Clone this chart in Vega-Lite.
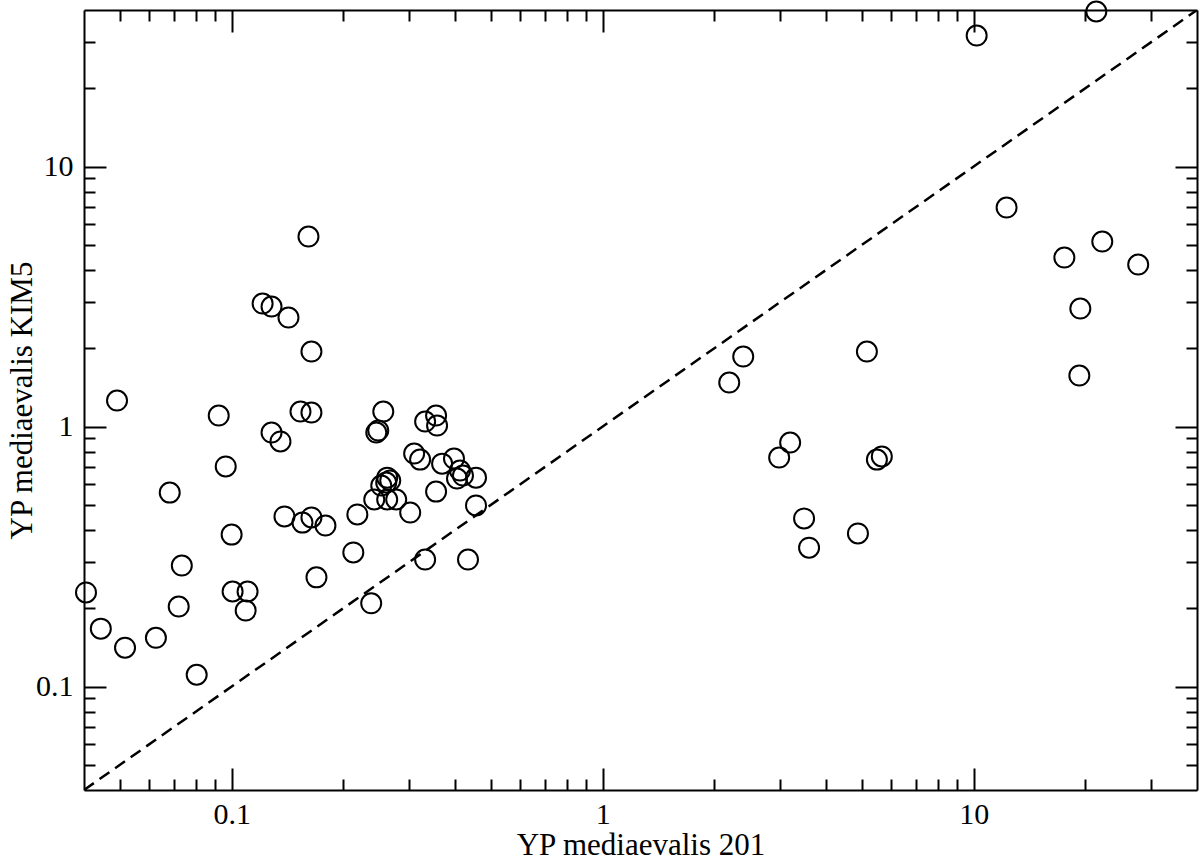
{
  "$schema": "https://vega.github.io/schema/vega-lite/v6.json",
  "width": 1113,
  "height": 780,
  "autosize": {"type": "none"},
  "padding": {"left": 84, "top": 10, "right": 3, "bottom": 72},
  "background": "white",
  "config": {
    "view": {"stroke": null},
    "axis": {
      "labelFont": "Liberation Serif",
      "titleFont": "Liberation Serif",
      "labelColor": "black",
      "titleColor": "black",
      "domainColor": "black",
      "tickColor": "black",
      "domainWidth": 2,
      "tickWidth": 2,
      "grid": false,
      "titleFontWeight": "normal",
      "labelFontSize": 30,
      "titleFontSize": 31
    }
  },
  "datasets": {
    "diag": [{"a": 0.04, "b": 0.04}, {"a": 40, "b": 40}],
    "points": [
      {"x": 0.0405, "y": 0.230}, {"x": 0.0444, "y": 0.167}, {"x": 0.0491, "y": 1.259},
      {"x": 0.0516, "y": 0.141}, {"x": 0.0625, "y": 0.154}, {"x": 0.0681, "y": 0.557},
      {"x": 0.0720, "y": 0.203}, {"x": 0.0734, "y": 0.292}, {"x": 0.0805, "y": 0.111},
      {"x": 0.0923, "y": 1.102}, {"x": 0.0964, "y": 0.702}, {"x": 0.100, "y": 0.384},
      {"x": 0.1006, "y": 0.232}, {"x": 0.1091, "y": 0.196}, {"x": 0.1104, "y": 0.232},
      {"x": 0.1212, "y": 2.972}, {"x": 0.1281, "y": 2.894}, {"x": 0.1281, "y": 0.948},
      {"x": 0.1354, "y": 0.876}, {"x": 0.1388, "y": 0.451}, {"x": 0.1423, "y": 2.626},
      {"x": 0.1533, "y": 1.142}, {"x": 0.1552, "y": 0.427}, {"x": 0.1611, "y": 5.38},
      {"x": 0.1641, "y": 1.943}, {"x": 0.1641, "y": 1.132}, {"x": 0.1641, "y": 0.447},
      {"x": 0.1693, "y": 0.263}, {"x": 0.1790, "y": 0.416}, {"x": 0.2128, "y": 0.328},
      {"x": 0.2182, "y": 0.459}, {"x": 0.2378, "y": 0.209}, {"x": 0.2423, "y": 0.524},
      {"x": 0.2454, "y": 0.948}, {"x": 0.2484, "y": 0.965}, {"x": 0.2563, "y": 1.142},
      {"x": 0.2531, "y": 0.593}, {"x": 0.2626, "y": 0.636}, {"x": 0.2676, "y": 0.620},
      {"x": 0.2610, "y": 0.609}, {"x": 0.2626, "y": 0.524}, {"x": 0.2777, "y": 0.524},
      {"x": 0.3029, "y": 0.467}, {"x": 0.3104, "y": 0.787}, {"x": 0.3221, "y": 0.746},
      {"x": 0.3323, "y": 1.045}, {"x": 0.3323, "y": 0.308}, {"x": 0.3557, "y": 1.102},
      {"x": 0.3579, "y": 1.009}, {"x": 0.3557, "y": 0.562}, {"x": 0.3692, "y": 0.720},
      {"x": 0.3975, "y": 0.753}, {"x": 0.4126, "y": 0.677}, {"x": 0.4203, "y": 0.648},
      {"x": 0.4050, "y": 0.631}, {"x": 0.4336, "y": 0.308}, {"x": 0.4557, "y": 0.636},
      {"x": 0.4557, "y": 0.497},
      {"x": 2.194, "y": 1.476}, {"x": 2.393, "y": 1.858}, {"x": 2.991, "y": 0.760},
      {"x": 3.202, "y": 0.868}, {"x": 3.491, "y": 0.443}, {"x": 3.601, "y": 0.342},
      {"x": 4.877, "y": 0.388}, {"x": 5.156, "y": 1.943}, {"x": 5.486, "y": 0.746},
      {"x": 5.656, "y": 0.767}, {"x": 10.19, "y": 31.9}, {"x": 12.27, "y": 6.956},
      {"x": 17.56, "y": 4.467}, {"x": 19.27, "y": 1.571}, {"x": 19.39, "y": 2.844},
      {"x": 21.41, "y": 39.47}, {"x": 22.22, "y": 5.146}, {"x": 27.77, "y": 4.199}
    ]
  },
  "layer": [
    {
      "data": {"name": "diag"},
      "mark": {"type": "line", "strokeDash": [12, 7], "strokeWidth": 2.5, "color": "black", "clip": true},
      "encoding": {
        "x": {
          "field": "a", "type": "quantitative",
          "scale": {"type": "log", "domain": [0.04, 40], "nice": false},
          "axis": {
            "orient": "bottom",
            "title": "YP mediaevalis 201",
            "values": [0.05,0.06,0.07,0.08,0.09,0.1,0.2,0.3,0.4,0.5,0.6,0.7,0.8,0.9,1,2,3,4,5,6,7,8,9,10,20,30],
            "tickSize": {"condition": {"test": "indexof([0.1,1,10], datum.value) >= 0", "value": -22}, "value": -11},
            "labelExpr": "datum.value === 0.1 ? '0.1' : datum.value === 1 ? '1' : datum.value === 10 ? '10' : ''",
            "labelPadding": 31,
            "titlePadding": 1
          }
        },
        "y": {
          "field": "b", "type": "quantitative",
          "scale": {"type": "log", "domain": [0.04, 40], "nice": false},
          "axis": {
            "orient": "left",
            "title": "YP mediaevalis KIM5",
            "values": [0.05,0.06,0.07,0.08,0.09,0.1,0.2,0.3,0.4,0.5,0.6,0.7,0.8,0.9,1,2,3,4,5,6,7,8,9,10,20,30],
            "tickSize": {"condition": {"test": "indexof([0.1,1,10], datum.value) >= 0", "value": -22}, "value": -11},
            "labelExpr": "datum.value === 0.1 ? '0.1' : datum.value === 1 ? '1' : datum.value === 10 ? '10' : ''",
            "labelPadding": 33,
            "titlePadding": -3
          }
        }
      }
    },
    {
      "data": {"name": "points"},
      "mark": {"type": "point", "shape": "circle", "filled": false, "size": 400, "stroke": "black", "strokeWidth": 2, "opacity": 1, "clip": false},
      "encoding": {
        "x": {
          "field": "x", "type": "quantitative",
          "axis": {
            "orient": "top",
            "title": null,
            "values": [0.05,0.06,0.07,0.08,0.09,0.1,0.2,0.3,0.4,0.5,0.6,0.7,0.8,0.9,1,2,3,4,5,6,7,8,9,10,20,30],
            "tickSize": {"condition": {"test": "indexof([0.1,1,10], datum.value) >= 0", "value": -22}, "value": -11},
            "labels": false
          }
        },
        "y": {
          "field": "y", "type": "quantitative",
          "axis": {
            "orient": "right",
            "title": null,
            "values": [0.05,0.06,0.07,0.08,0.09,0.1,0.2,0.3,0.4,0.5,0.6,0.7,0.8,0.9,1,2,3,4,5,6,7,8,9,10,20,30],
            "tickSize": {"condition": {"test": "indexof([0.1,1,10], datum.value) >= 0", "value": -22}, "value": -11},
            "labels": false
          }
        }
      }
    }
  ],
  "resolve": {"axis": {"x": "independent", "y": "independent"}}
}
